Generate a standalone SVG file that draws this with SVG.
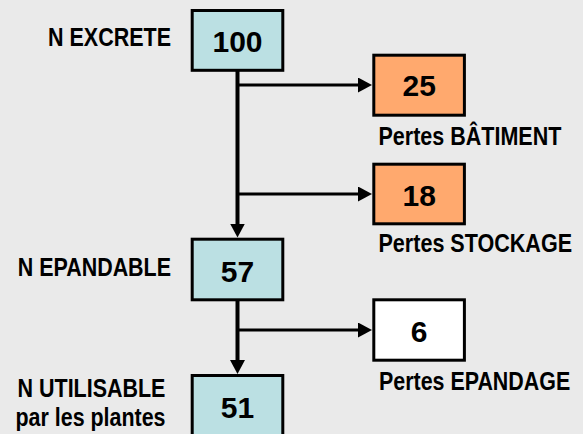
<svg xmlns="http://www.w3.org/2000/svg" width="583" height="434" viewBox="0 0 583 434">
<style>
.bg{fill:#EAEAEA}
.box{stroke:#000;stroke-width:3}
.blue{fill:#BBE0E3}
.orange{fill:#FFA96E}
.white{fill:#FFFFFF}
.num{font-family:"Liberation Sans",Arial,sans-serif;font-weight:bold;font-size:30px;fill:#000;text-anchor:middle}
.lbl{font-family:"Liberation Sans",Arial,sans-serif;font-weight:bold;font-size:25px;fill:#000}
.v{stroke:#000;stroke-width:4;fill:none}
.h{stroke:#000;stroke-width:3;fill:none}
</style>
<defs>
<marker id="arr" markerUnits="userSpaceOnUse" markerWidth="14" markerHeight="15" refX="8" refY="7.5" orient="auto">
<path d="M0,0 L14,7.5 L0,15 z" fill="#000"/>
</marker>
</defs>
<rect class="bg" x="0" y="0" width="583" height="434"/>
<g id="connectors">
<line class="v" x1="237.5" y1="71" x2="237.5" y2="231.5" marker-end="url(#arr)"/>
<line class="h" x1="237.5" y1="85" x2="366" y2="85" marker-end="url(#arr)"/>
<line class="h" x1="237.5" y1="194" x2="366" y2="194" marker-end="url(#arr)"/>
<line class="v" x1="237.5" y1="300" x2="237.5" y2="368" marker-end="url(#arr)"/>
<line class="h" x1="237.5" y1="330" x2="366" y2="330" marker-end="url(#arr)"/>
</g>
<g id="n-excrete">
<rect class="box blue" x="192.2" y="10.5" width="90.6" height="59.8"/>
<text class="num" x="237.5" y="52">100</text>
<text class="lbl" transform="translate(171,46) scale(0.86,1)" text-anchor="end">N EXCRETE</text>
</g>
<g id="pertes-batiment">
<rect class="box orange" x="373.8" y="55.2" width="90.6" height="60"/>
<text class="num" x="419.2" y="96">25</text>
<text class="lbl" transform="translate(378.5,145) scale(0.861,1)">Pertes BÂTIMENT</text>
</g>
<g id="pertes-stockage">
<rect class="box orange" x="373.8" y="164.2" width="90.6" height="59.6"/>
<text class="num" x="419.2" y="205.5">18</text>
<text class="lbl" transform="translate(378.5,252.3) scale(0.862,1)">Pertes STOCKAGE</text>
</g>
<g id="n-epandable">
<rect class="box blue" x="192.2" y="239.2" width="90.6" height="60.6"/>
<text class="num" x="237.5" y="281.7">57</text>
<text class="lbl" transform="translate(171,275.7) scale(0.858,1)" text-anchor="end">N EPANDABLE</text>
</g>
<g id="pertes-epandage">
<rect class="box white" x="373.8" y="299.8" width="90.6" height="60.4"/>
<text class="num" x="419.2" y="341.7">6</text>
<text class="lbl" transform="translate(379,390) scale(0.857,1)">Pertes EPANDAGE</text>
</g>
<g id="n-utilisable">
<rect class="box blue" x="192.2" y="375.5" width="90.6" height="62"/>
<text class="num" x="237.5" y="417.7">51</text>
<text class="lbl" transform="translate(91.5,396.7) scale(0.859,1)" text-anchor="middle">N UTILISABLE</text>
<text class="lbl" transform="translate(90.5,426) scale(0.857,1)" text-anchor="middle">par les plantes</text>
</g>
</svg>
